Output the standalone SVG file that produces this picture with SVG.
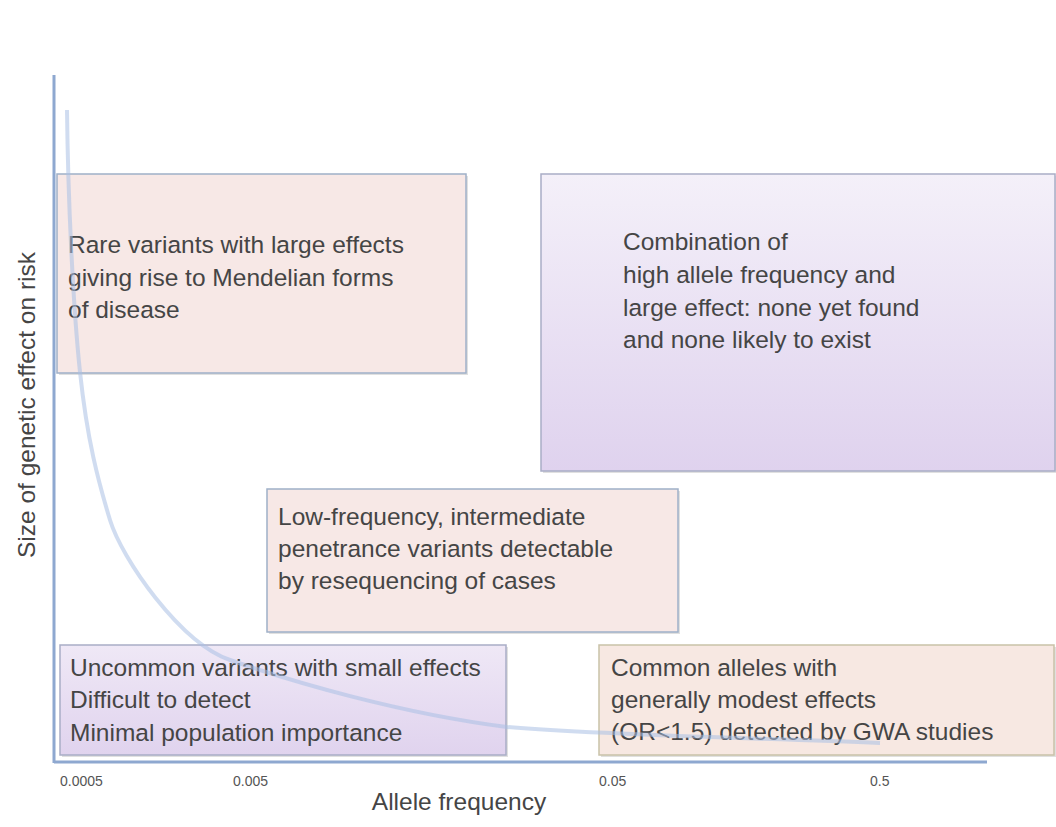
<svg xmlns="http://www.w3.org/2000/svg" width="1056" height="827" viewBox="0 0 1056 827">
<defs>
<linearGradient id="lav" x1="0" y1="0" x2="0" y2="1">
<stop offset="0" stop-color="#f4f0f9"/>
<stop offset="1" stop-color="#dfd2ee"/>
</linearGradient>
<linearGradient id="lav2" x1="0" y1="0" x2="0" y2="1">
<stop offset="0" stop-color="#efe8f6"/>
<stop offset="1" stop-color="#e0d3ee"/>
</linearGradient>
<style>
.pink{fill:#f7e8e6;stroke:#9fb0c8;stroke-width:1.5}
.peach{fill:#f7e8e2;stroke:#c9c2a8;stroke-width:1.5}
.lv{stroke:#a9adc6;stroke-width:1.5}
.sh{fill:#000;opacity:0.12}
.t{font-family:"Liberation Sans",Arial,sans-serif;font-size:24.5px;fill:#454545}
.tick{font-family:"Liberation Sans",Arial,sans-serif;font-size:14px;fill:#555}
.axis{stroke:#8ea8d0;stroke-width:3;fill:none}
</style>
</defs>
<rect width="1056" height="827" fill="#fff"/>
<g id="axes">
<line class="axis" x1="54" y1="75" x2="54" y2="763"/>
<line class="axis" x1="54" y1="762" x2="987" y2="762"/>
</g>
<g id="box-rare">
<rect class="sh" x="59" y="176" width="409" height="199"/>
<rect class="pink" x="57" y="174" width="409" height="199"/>
<text class="t"><tspan x="68" y="253">Rare variants with large effects</tspan><tspan x="68" y="286">giving rise to Mendelian forms</tspan><tspan x="68" y="318">of disease</tspan></text>
</g>
<g id="box-combination">
<rect class="sh" x="543" y="176" width="514" height="297"/>
<rect class="lv" fill="url(#lav)" x="541" y="174" width="514" height="297"/>
<text class="t"><tspan x="623" y="250">Combination of</tspan><tspan x="623" y="283">high allele frequency and</tspan><tspan x="623" y="316">large effect: none yet found</tspan><tspan x="623" y="348">and none likely to exist</tspan></text>
</g>
<g id="box-lowfreq">
<rect class="sh" x="269" y="491" width="411" height="143"/>
<rect class="pink" x="267" y="489" width="411" height="143"/>
<text class="t"><tspan x="278" y="525">Low-frequency, intermediate</tspan><tspan x="278" y="557">penetrance variants detectable</tspan><tspan x="278" y="589">by resequencing of cases</tspan></text>
</g>
<g id="box-uncommon">
<rect class="sh" x="62" y="647" width="446" height="110"/>
<rect class="lv" fill="url(#lav2)" x="60" y="645" width="446" height="110"/>
<text class="t"><tspan x="70" y="676">Uncommon variants with small effects</tspan><tspan x="70" y="708">Difficult to detect</tspan><tspan x="70" y="741">Minimal population importance</tspan></text>
</g>
<g id="box-common">
<rect class="sh" x="601" y="647" width="455" height="110"/>
<rect class="peach" x="599" y="645" width="455" height="110"/>
<text class="t"><tspan x="611" y="676">Common alleles with</tspan><tspan x="611" y="708">generally modest effects</tspan><tspan x="611" y="740">(OR&lt;1.5) detected by GWA studies</tspan></text>
</g>
<g id="curve">
<path d="M67,110 C68,197 72.8,303.7 80,372 C87.2,440.3 98.3,481.5 110,520 C121.7,558.5 180,642.6 230,660 C289.5,680.7 398.7,713.2 507,727 C615,736 755.7,737.7 880,743" fill="none" stroke="#a9c0e4" stroke-width="4" opacity="0.55"/>
</g>
<g id="labels">
<text class="tick" x="60" y="786">0.0005</text>
<text class="tick" x="233" y="786">0.005</text>
<text class="tick" x="599" y="786">0.05</text>
<text class="tick" x="870" y="786">0.5</text>
<text class="t" x="459" y="810" text-anchor="middle">Allele frequency</text>
<text class="t" x="0" y="0" text-anchor="middle" transform="translate(35,405) rotate(-90)">Size of genetic  effect on risk</text>
</g>
</svg>
